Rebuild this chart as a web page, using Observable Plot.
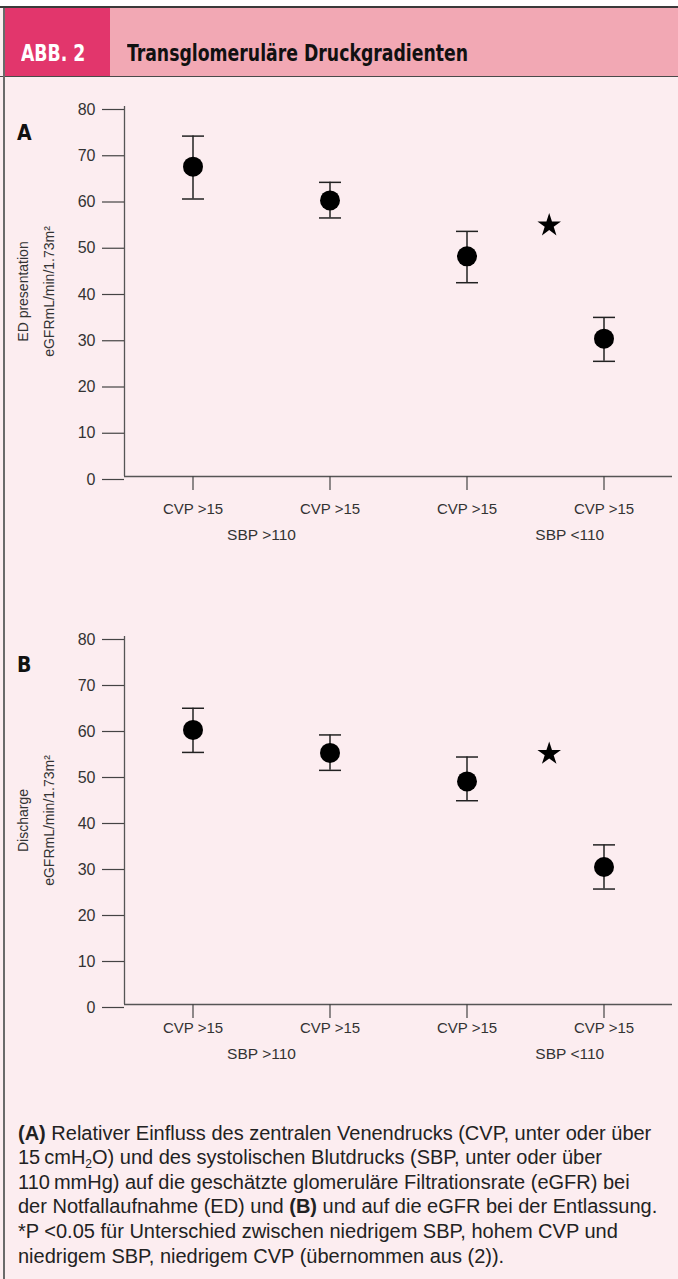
<!DOCTYPE html>
<html>
<head>
<meta charset="utf-8">
<script src="https://cdn.jsdelivr.net/npm/d3@7"></script>
<script src="https://cdn.jsdelivr.net/npm/@observablehq/plot@0.6"></script>
<style>
  body { margin: 0; background: #ffffff; }
  #page { position: relative; width: 678px; height: 1279px; background: #fcedf0; overflow: hidden;
          font-family: "Liberation Sans Narrow", "DejaVu Sans Condensed", "Liberation Sans", sans-serif; }
  .abs { position: absolute; }
  #topwhite { left: 0; top: 0; width: 678px; height: 6px; background: #ffffff; }
  #topline { left: 0; top: 6px; width: 678px; height: 2px; background: #3a3a3a; }
  #hdrL { left: 4px; top: 8px; width: 106px; height: 68px; background: #e2366c; }
  #hdrR { left: 110px; top: 8px; width: 568px; height: 68px; background: #f2a8b4; }
  #hdrline { left: 0; top: 76px; width: 678px; height: 1px; background: #4a4a4a; }
  #leftline { left: 3px; top: 8px; width: 1.5px; height: 1271px; background: #6a6a6a; }
  .hdrtxt { top: 41.5px; font-size: 23px; line-height: 23px; font-weight: bold; white-space: nowrap;
            transform: scaleX(0.835); transform-origin: 0 0; }
  #abb { left: 20.5px; color: #ffffff; }
  #ttl { left: 126.5px; color: #111111; }
  .plabel { left: 17px; font-size: 21px; line-height: 21px; font-weight: bold; color: #111; }
  #caption { left: 18px; top: 1120.7px; font-family: "Liberation Sans", Arial, sans-serif; font-size: 20px;
             line-height: 24.6px; color: #222; white-space: nowrap; }
  #caption sub { font-size: 0.6em; line-height: 0; vertical-align: -0.3em; }
</style>
</head>
<body>
<div id="page">
  <div id="topwhite" class="abs"></div>
  <div id="hdrL" class="abs"></div>
  <div id="hdrR" class="abs"></div>
  <div id="topline" class="abs"></div>
  <div id="hdrline" class="abs"></div>
  <div id="leftline" class="abs"></div>
  <div id="abb" class="abs hdrtxt">ABB. 2</div>
  <div id="ttl" class="abs hdrtxt">Transglomeruläre Druckgradienten</div>
  <div id="panelA" class="abs" style="left:0;top:77px;"></div>
  <div id="panelB" class="abs" style="left:0;top:600px;"></div>
  <div class="abs plabel" style="top:123.2px;">A</div>
  <div class="abs plabel" style="top:655.2px;">B</div>
  <div id="caption" class="abs"><b>(A)</b> Relativer Einfluss des zentralen Venendrucks (CVP, unter oder über<br>15&#8201;cmH<sub>2</sub>O) und des systolischen Blutdrucks (SBP, unter oder über<br>110&#8201;mmHg) auf die geschätzte glomeruläre Filtrationsrate (eGFR) bei<br>der Notfallaufnahme (ED) und <b>(B)</b> und auf die eGFR bei der Entlassung.<br>*P &lt;0.05 für Unterschied zwischen niedrigem SBP, hohem CVP und<br>niedrigem SBP, niedrigem CVP (übernommen aus (2)).</div>
</div>
<script>
// ---- data ----
const categories = ["CVP >15", "CVP >15", "CVP >15", "CVP >15"];
const xPos = [1, 2, 3, 4];
const groupLabels = ["SBP >110", "SBP <110"];
const groupPos = [1.5, 3.75];
const yTicks = [0, 10, 20, 30, 40, 50, 60, 70, 80];

const edMean = [67.0, 59.7, 47.6, 29.8];
const edLow  = [60.0, 55.9, 41.9, 24.9];
const edHigh = [73.6, 63.6, 53.0, 34.4];
const edStarPos = 3.6;
const edStar = 54.3;

const dcMean = [59.7, 54.7, 48.5, 29.9];
const dcLow  = [54.8, 50.9, 44.3, 25.1];
const dcHigh = [64.4, 58.6, 53.8, 34.7];
const dcStarPos = 3.6;
const dcStar = 54.5;

const titleA = "ED presentation\neGFRmL/min/1.73m²";
const titleB = "Discharge\neGFRmL/min/1.73m²";

// ---- drawing ----
const labelMap = new Map(xPos.map((x, i) => [x, categories[i]]));
const capSymbol = {
  draw(context, size) {
    const r = Math.sqrt(size / Math.PI);
    context.moveTo(-r, 0);
    context.lineTo(r, 0);
  }
};
const AXFONT = '"Liberation Sans", Arial, sans-serif';

function panel(opts) {
  const rows = xPos.map((x, i) => ({x, mean: opts.mean[i], low: opts.low[i], high: opts.high[i]}));
  return Plot.plot({
    width: 678,
    height: opts.height,
    marginLeft: 124,
    marginRight: 6,
    marginTop: opts.marginTop,
    marginBottom: opts.marginBottom,
    style: {background: "transparent", fontFamily: AXFONT, color: "#333", overflow: "visible"},
    x: {domain: [0.5, 4.5]},
    y: {domain: [0, 80]},
    marks: [
      Plot.ruleX([0.5], {stroke: "#555", strokeWidth: 1.3}),
      Plot.ruleY([0], {stroke: "#555", strokeWidth: 1.3}),
      Plot.axisY({ticks: yTicks, tickSize: 22, tickPadding: 7, fontSize: 16, dy: 3,
                  label: null, stroke: "#444", strokeWidth: 1.2, fill: "#333"}),
      Plot.axisX({ticks: xPos, tickSize: 14, tickPadding: opts.cvpPad, fontSize: 15,
                  tickFormat: d => labelMap.get(d), label: null, stroke: "#444", strokeWidth: 1.2, fill: "#333"}),
      Plot.text(groupLabels, {x: (d, i) => groupPos[i], y: () => 0, dy: opts.sbpDy, fontSize: 15.5, fill: "#333"}),
      Plot.ruleX(rows, {x: "x", y1: "low", y2: "high", stroke: "#222", strokeWidth: 1.5}),
      Plot.dot(rows, {x: "x", y: "low", symbol: capSymbol, r: 11, fill: "none", stroke: "#222", strokeWidth: 1.5}),
      Plot.dot(rows, {x: "x", y: "high", symbol: capSymbol, r: 11, fill: "none", stroke: "#222", strokeWidth: 1.5}),
      Plot.dot(rows, {x: "x", y: "mean", r: 10, fill: "#000", stroke: "none"}),
      Plot.dot([opts.star], {x: () => opts.starPos, y: d => d, symbol: "star", r: 7.4, fill: "#000", stroke: "none"}),
      Plot.text([opts.title], {frameAnchor: "left", textAnchor: "middle", lineAnchor: "middle", dx: -92,
                               rotate: -90, lineHeight: 1.85, fontSize: 14, fill: "#333"})
    ]
  });
}

document.getElementById("panelA").append(panel({
  mean: edMean, low: edLow, high: edHigh, star: edStar, starPos: edStarPos, title: titleA,
  height: 483, marginTop: 29, marginBottom: 84, cvpPad: 13, sbpDy: 58.5
}));
document.getElementById("panelB").append(panel({
  mean: dcMean, low: dcLow, high: dcHigh, star: dcStar, starPos: dcStarPos, title: titleB,
  height: 480, marginTop: 36, marginBottom: 76, cvpPad: 4, sbpDy: 50
}));
</script>
</body>
</html>
